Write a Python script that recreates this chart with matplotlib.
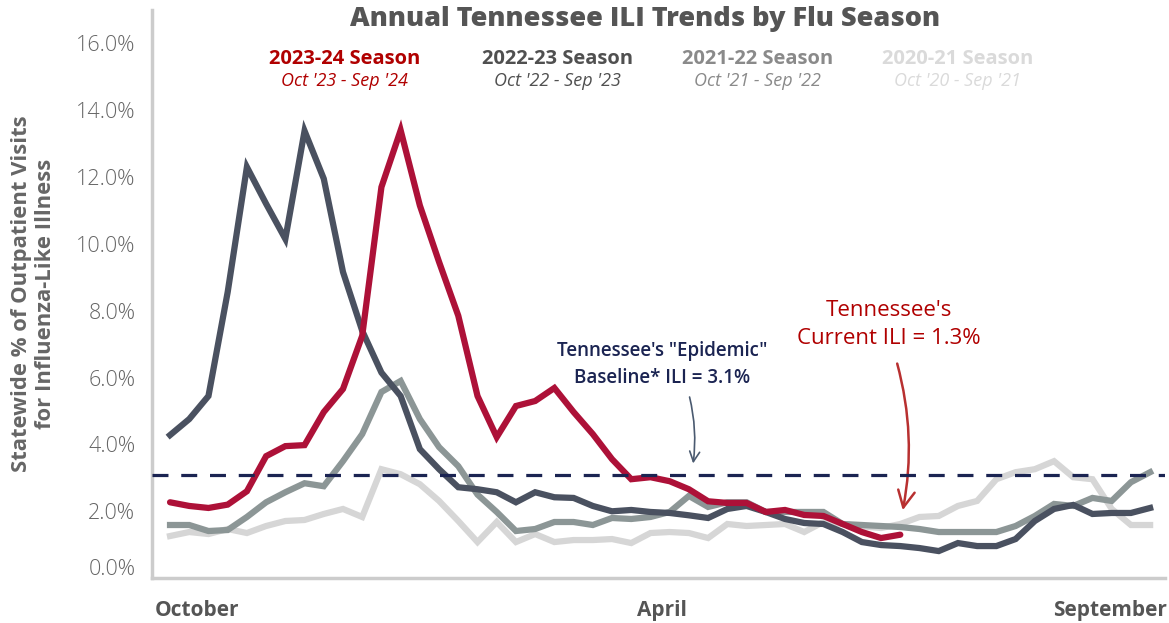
import numpy as np
import matplotlib
matplotlib.use("Agg")
import matplotlib.pyplot as plt
import matplotlib.transforms as mtransforms
from matplotlib.ticker import FuncFormatter

# Weekly ILI %, week 0 = start of October
s2023 = [2.27, 2.16, 2.10, 2.20, 2.60, 3.65, 3.95, 3.98, 4.97, 5.66,
         7.25, 11.7, 13.4, 11.15, 9.46, 7.85, 5.45, 4.22, 5.15, 5.30,
         5.69, 4.97, 4.31, 3.56, 2.96, 3.02, 2.90, 2.66, 2.30, 2.25,
         2.25, 1.98, 2.04, 1.89, 1.86, 1.62, 1.38, 1.20, 1.30]
s2022 = [4.28, 4.76, 5.45, 8.56, 12.3, 11.2, 10.15, 13.38, 11.95, 9.16,
         7.40, 6.15, 5.45, 3.86, 3.26, 2.72, 2.66, 2.57, 2.27, 2.57,
         2.42, 2.40, 2.16, 2.00, 2.04, 1.98, 1.95, 1.88, 1.80, 2.07,
         2.16, 1.98, 1.77, 1.65, 1.62, 1.38, 1.08, 0.99, 0.96, 0.90,
         0.81, 1.05, 0.96, 0.96, 1.17, 1.71, 2.07, 2.19, 1.92, 1.95,
         1.95, 2.10]
s2021 = [1.59, 1.59, 1.41, 1.44, 1.83, 2.27, 2.57, 2.84, 2.75, 3.50,
         4.31, 5.57, 5.90, 4.76, 3.92, 3.35, 2.50, 1.98, 1.41, 1.47,
         1.68, 1.68, 1.59, 1.80, 1.77, 1.83, 1.98, 2.46, 2.13, 2.27,
         2.27, 1.98, 1.98, 1.98, 1.98, 1.62, 1.59, 1.56, 1.53, 1.47,
         1.38, 1.38, 1.38, 1.38, 1.56, 1.86, 2.22, 2.16, 2.40, 2.31,
         2.87, 3.17]
s2020 = [1.26, 1.38, 1.32, 1.47, 1.35, 1.56, 1.71, 1.74, 1.92, 2.07,
         1.83, 3.26, 3.11, 2.81, 2.31, 1.71, 1.08, 1.68, 1.08, 1.32,
         1.08, 1.14, 1.14, 1.17, 1.05, 1.35, 1.38, 1.35, 1.20, 1.62,
         1.56, 1.59, 1.62, 1.38, 1.68, 1.62, 1.55, 1.50, 1.62, 1.83,
         1.86, 2.16, 2.31, 2.96, 3.17, 3.26, 3.50, 3.02, 2.96, 2.07,
         1.59, 1.59]
baseline = 3.1
current = 1.3

seasons = ["2023-24 Season", "2022-23 Season", "2021-22 Season", "2020-21 Season"]
ranges = ["Oct '23 - Sep '24", "Oct '22 - Sep '23", "Oct '21 - Sep '22", "Oct '20 - Sep '21"]
month_labels = ["October", "April", "September"]
month_pos = [1.4, 25.6, 48.9]

c_red = "#AD1138"
c_dark = "#4A5160"
c_mid = "#8C9696"
c_light = "#D6D6D6"
c_navy = "#1B2452"

plt.rcParams['font.family'] = ['Open Sans', 'DejaVu Sans']

fig = plt.figure(figsize=(11.69, 6.23), dpi=100)
ax = fig.add_axes([0.130, 0.072, 0.867, 0.912])

lw = 4.5
ax.plot(range(len(s2020)), s2020, color=c_light, lw=lw, solid_joinstyle='miter', zorder=2)
ax.plot(range(len(s2021)), s2021, color=c_mid, lw=lw, solid_joinstyle='miter', zorder=3)
ax.plot(range(len(s2022)), s2022, color=c_dark, lw=lw, solid_joinstyle='miter', zorder=4)
ax.plot(range(len(s2023)), s2023, color=c_red, lw=lw, solid_joinstyle='miter',
        solid_capstyle='round', zorder=5)
ax.axhline(baseline, color=c_navy, lw=2.3, dashes=(5, 4), zorder=6)

ax.set_xlim(-0.94, 51.8)
ax.set_ylim(0, 17.0)
ax.set_yticks(np.arange(0, 17, 2))
ax.yaxis.set_major_formatter(FuncFormatter(lambda v, p: f"{v:.1f}%"))
ax.set_xticks(month_pos)
ax.set_xticklabels(month_labels, fontweight='bold')
ax.tick_params(axis='y', length=0, labelsize=15.5, labelcolor="#666666", pad=12)
ax.tick_params(axis='x', length=0, labelsize=15, labelcolor="#555555", pad=16)
for lab in ax.get_yticklabels():
    lab.set_fontweight('light')
# the 0.0% label sits a little higher, clear of the axis line
ax.get_yticklabels()[0].set_transform(
    ax.get_yticklabels()[0].get_transform()
    + mtransforms.ScaledTranslation(0, 11 / 100, fig.dpi_scale_trans))
for sp in ['top', 'right']:
    ax.spines[sp].set_visible(False)
for sp in ['left', 'bottom']:
    ax.spines[sp].set_color("#CCCCCC")
    ax.spines[sp].set_linewidth(2.5)

ax.set_ylabel("Statewide % of Outpatient Visits\nfor Influenza-Like Illness",
              fontsize=15.8, fontweight='bold', color="#666666", labelpad=14,
              linespacing=1.2)

# title and season legend
fig.text(0.552, 0.970, "Annual Tennessee ILI Trends by Flu Season", ha='center', va='center',
         fontsize=19.5, fontweight='heavy', color="#555555")
leg_x = [0.295, 0.477, 0.648, 0.819]
leg_col = ["#B00000", "#505050", "#8A8A8A", "#DADADA"]
for x, s, r, c in zip(leg_x, seasons, ranges, leg_col):
    fig.text(x, 0.906, s, ha='center', va='center', fontsize=14.5, fontweight='bold', color=c)
    fig.text(x, 0.870, r, ha='center', va='center', fontsize=13, style='italic', color=c)

# annotations
ax.text(25.6, 6.4, "Tennessee's \"Epidemic\"\nBaseline* ILI = 3.1%", ha='center', va='center',
        fontsize=13.5, fontweight='semibold', color=c_navy, linespacing=1.45)
ax.annotate("", xy=(27.2, 3.35), xytext=(27.0, 5.5),
            arrowprops=dict(arrowstyle='->', color="#4A5A70", lw=1.2,
                            connectionstyle="arc3,rad=-0.1", mutation_scale=18))
ax.text(37.4, 7.6, "Tennessee's\nCurrent ILI = 1.3%", ha='center', va='center',
        fontsize=16, fontweight='medium', color="#B00000", linespacing=1.45)
ax.annotate("", xy=(38.1, 1.95), xytext=(37.8, 6.5),
            arrowprops=dict(arrowstyle='->', color="#B83030", lw=1.8,
                            connectionstyle="arc3,rad=-0.12", mutation_scale=30))

plt.savefig("out.png", dpi=100)
